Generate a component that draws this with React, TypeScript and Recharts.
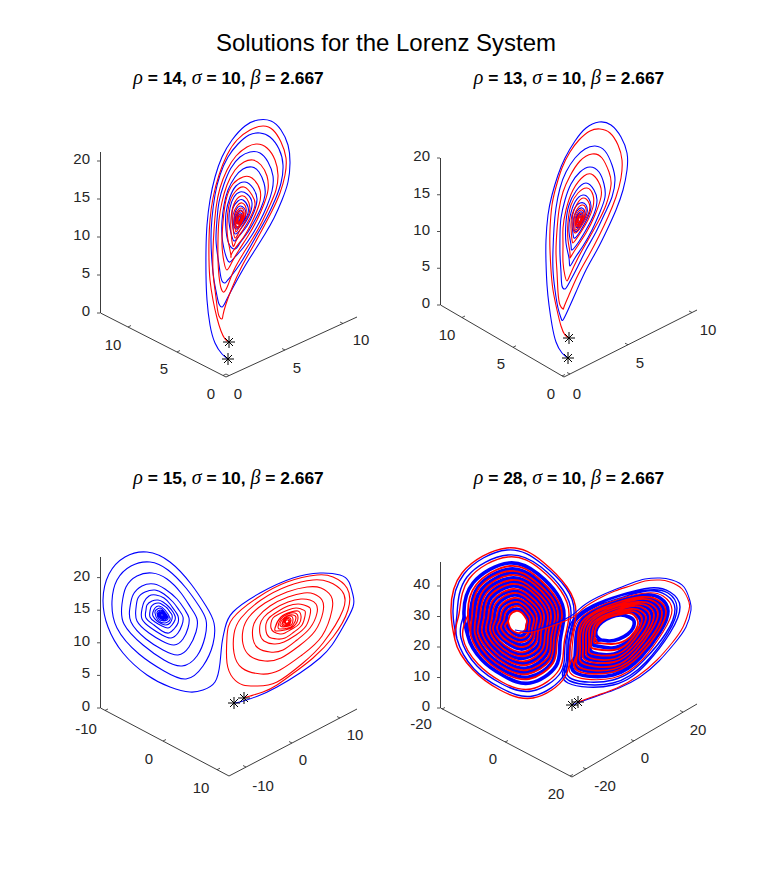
import React from "react";
import { ComposedChart, Line, ReferenceDot, XAxis, YAxis } from "recharts";

// Trajectories as seen in each panel's projection plane: flat lists of (u, v) pairs.
const p1Blue = [228,359,222,354,215,343,210,325,207,300,206,275,206,250,207,225,210,200,215,177,222,157,232,140,245,126,258,120,271,121,281,130,288,145,290,163,288,182,282,200,274,218,265,234,255,250,245,266,236,282,229,295,225,303,222,307,
219,304,217,296,214,280,212,262,211,240,212,218,215,195,220,175,228,157,238,144,249,135,260,133,270,137,279,149,283,165,281,183,275,200,267,217,258,233,249,249,240,264,232,275,227,281,225,283,
222,281,220,272,218,258,216,240,217,220,219,202,224,184,231,168,240,157,250,152,260,153,268,162,273,176,272,191,267,206,260,221,252,235,243,248,235,257,230,262,
227,259,224,249,222,236,222,221,224,205,228,190,235,177,243,169,252,167,259,172,264,183,265,195,261,208,255,220,248,232,240,243,235,249,
229,244,226,230,226,213,230,197,236,186,245,182,253,188,257,199,254,212,247,226,239,236,234,241,
231,233,229,222,230,208,234,197,240,192,247,194,252,203,249,216,243,226,236,234,
233,228,232,218,233,208,238,201,243,200,248,207,247,216,242,224,237,229,
234,226,234,218,236,210,240,206,244,208,246,213,244,220,240,226,
235,225,235,218,238,212,241,210,243,213,243,218,240,223,
236,223,236,218,238,214,241,213,242,216,241,220,238,223,
237,222,237,218,239,215,240.5,215,241,218,240,221,238,222,
238,221,238,218,239.5,216.5,240,218,239.5,220,239,221];
const p1Red = [229,342,225,339,221,331,217,318,213,300,210,280,209,260,209,240,210,220,213,198,219,175,227,155,237,140,250,130,263,126,273,130,281,142,286,158,285,175,280,193,272,211,262,230,251,250,241,268,232,288,226,304,223,315,222,319,
219,316,217,306,215,290,213,272,213,250,214,230,216,208,220,188,227,170,236,156,247,147,257,144,267,148,275,160,278,175,276,190,270,205,262,222,253,238,243,254,234,270,228,285,224,292,
221,288,219,276,218,260,218,240,219,220,222,202,227,185,235,170,244,162,253,160,261,165,267,176,268,190,264,204,257,220,248,236,239,250,232,262,227,270,
224,262,222,245,223,222,226,200,233,184,243,177,252,178,260,190,259,205,252,222,243,238,232,253,231,256,
228,240,227,225,229,205,235,192,244,187,252,195,255,205,250,218,243,230,236,241,233,246,
231,232,231,218,234,204,241,196,247,199,250,208,247,218,240,230,235,238,
233,227,233,215,237,206,242,203,246,208,245,216,240,226,236,232,
235,226,235,216,239,209,243,209,244,215,241,222,237,228,
236,223,237,215,240,211,243,213,242,219,239,224,
237,222,238,217,240,214,242,216,241,220,239,223,
238,221,239,217,240.5,216,241,218,240,221,239,221];
const p2Blue = [568,358,562,353,556,342,552,325,549,305,547,285,546,262,546,240,548,215,552,195,558,175,565,158,575,141,586,128,599,122,611,125,621,137,627,153,627,170,623,190,616,210,607,230,597,250,586,270,576,292,568,310,563,320,
561,318,558,308,555,290,553,270,553,250,554,228,556,208,560,188,566,172,575,158,585,149,595,146,605,151,612,165,615,180,612,197,605,213,596,232,586,250,576,270,568,285,565,289,
562,286,561,272,560,255,560,235,561,218,565,200,571,184,580,172,590,167,599,172,604,184,605,197,600,212,592,230,583,246,575,258,570,266,
569,258,566,243,566,222,569,205,576,191,586,183,594,190,597,200,594,214,586,230,578,243,572,250,
571,245,569,232,570,217,575,202,583,195,589,199,591,207,588,217,581,230,575,238,
573,234,572,222,574,210,580,203,586,205,587,213,583,222,577,231,
574,229,574,219,577,211,582,208,585,213,583,220,578,227,
576,226,576,218,579,213,582,212,583,217,581,222,578,225,
577,224,577,218,580,214.5,582,216,581,220,579,223,
578,222,578.5,218,580,216.5,581,218,580,221,579,222];
const p2Red = [569,338,565,335,561,326,557,310,553,290,551,270,550,250,550,230,552,205,556,187,562,168,570,152,579,140,590,131,600,129,610,133,618,145,622,160,621,178,616,197,608,217,599,236,589,255,578,275,569,295,564,307,563,309,
560,305,558,292,557,272,556,252,557,230,559,210,563,192,570,176,580,161,592,154,602,158,609,172,611,185,606,205,598,222,588,240,578,258,570,275,567,281,
565,276,563,262,563,245,563,228,566,210,573,190,584,176,593,175,600,185,601,197,595,215,586,233,575,250,570,258,
570,253,568,240,568,222,571,205,578,193,587,188,593,195,593,207,588,220,581,232,574,242,
572,240,571,228,572,215,577,204,583,198,589,203,589,212,584,222,578,231,
574,232,573,222,576,211,582,205,586,209,585,216,581,224,576,230,
575,227,575,219,578,212,582,210,584,214,582,221,578,226,
576,225,577,218,580,213.5,582,214,582,218,580,222,578,225,
577,223,578,218,580,215.5,581.5,217,580.5,220,579,222.5,
578,222,579,218.5,580,217,581,218.5,580,221,579,221.5];
const p3Blue = [234,703,240,702,258,696,277,687,300,673,320,658,332,645,343,627,353,607,353,595,349,582,340,575,320,573,293,578,260,593,233,612,225,628,222,643,220,663,215,682,203,690,190,692,170,687,147,675,123,653,108,627,
103,600,109,574,125,557,147,552,170,562,191,584,206,606,214,623,213,644,203,666,186,679,164,671,139,654,117,628,
112,601,117,580,131,566,150,562,168,570,186,588,199,606,206,620,205,637,197,656,182,666,164,660,143,645,124,624,
122,604,126,587,137,576,152,573,167,579,181,593,191,608,197,619,196,632,189,647,178,655,163,650,146,639,131,622,
130,607,133,595,142,586,154,584,165,589,177,599,185,610,189,618,188,628,183,639,174,645,162,641,149,633,137,621,
136,608,138,598,145,592,155,590,164,594,173,602,179,610,183,617,182,625,178,633,171,638,162,635,151,628,142,619,
142,609,144,602,149,596,156,595,164,598,170,604,175,611,178,616,178,623,174,629,169,633,162,631,154,625,146,618,
146,610,147,605,152,601,158,600,163,602,169,607,173,612,175,616,175,620,172,625,168,628,162,626,155,622,150,617,
150,611,151,607,154,604,159,603,163,605,167,608,170,612,172,615,172,619,170,623,166,625,162,624,157,621,153,616,
153,612,155,608,159,606,165,610,170,618,169,621,165,623,158,620,
155,613,156,610,160,608,164,611,168,617,167,620,164,621,159,619,
157,613,158,611,160.5,610,164,612,167,617,166,619,164,620,160,618,
158,614,159,612,161,611,164,613,166,616.5,165.5,618,163.5,619,160,617.5,
159,614,160,612.5,161.5,612,163.5,613.5,165,616,164.5,617.5,163,618,160.5,617,
160,614.5,161,613,162,613,163,614,164,616,163.5,617,162.5,617,161,616,
161,614.5,161.5,614,162.5,614,163,615,163,616,162,616,161.5,615.5];
const p3Red = [244,698,250,696,263,692,277,685,295,672,313,658,333,637,348,610,347,588,333,577,317,575,287,582,257,598,233,618,227,637,227,663,233,678,243,685,257,686,277,682,303,663,323,643,
343,610,342,591,329,582,313,580,288,586,261,600,241,618,234,634,234,653,242,668,261,674,280,670,302,655,322,636,
332,610,331,596,321,588,307,587,287,592,265,603,249,617,243,630,243,644,250,656,265,661,281,658,299,646,315,631,
323,612,322,600,314,594,304,593,288,597,270,606,258,617,253,627,253,639,258,648,270,652,283,650,297,640,310,628,
317,613,316,604,310,600,301,599,288,602,274,609,264,617,260,625,260,634,264,641,274,644,284,642,296,635,306,626,
310,615,310,608,304,605,298,604,288,606,277,612,269,618,266,624,266,631,269,637,277,639,285,638,294,632,302,625,
305,616,305,611,301,609,296,608,288,610,279,614,273,618,271,623,271,628,274,632,280,634,285,633,292,629,299,624,
301,616,298,611,291,612,281,617,275,628,277,631,285,630,
294,626,298,618,295,613,288,614,281,619,278,627,281,629,288,628,
293,625,296,618,293,615,287,616,282,620,280,625,283,627,289,626,
292,624,293,619,291,616,286,617,283,621,282,625,285,626,289,625,
290,624,291,620,289,617.5,286,618,284,621,283,624,285,625,288,624.5,
290,622,289,619,287,618.5,285,620,284.5,622.5,286,624,288,623.5,
289,622,288,620,286.5,620,285.5,621.5,286,623,287.5,623,288.5,622];
const p4BlueStart = [572,705,580,702,600,695,619,688,640,677,659,661,674,644,686,627,691,610,690,601,684,587,672,580,660,578,645,579,632,583,614,590,598,597,583,606,571,616,553,624,531,631,515,630];
const p4RedStart = [578,702,598,695,617,688,638,676,657,660,672,643,683,627,689,610,689,602,682,589,670,582,660,580,645,581,633,585,615,591,600,598,585,607,573,617,555,625,533,632,520,632];
const p4LeftBlueOuter = [457,639,453,613,464,574,507,550,542,564,566,588,574,614,568,646,564,675,533,696,501,688,474,669,457,639,
457,614,467,577,508,555,541,567,563,590,571,615,565,645,561,672,532,691,502,684,477,666,461,638,464,615];
const p4LeftBlue = [468,636,464,615,473,583,509,563,538,574,557,594,564,616,560,642,556,666,530,683,504,676,482,660,468,636,
470,616,478,587,510,569,536,579,553,597,560,616,555,640,552,662,529,677,505,671,486,657,473,635,
474,616,481,590,511,573,534,582,550,599,556,617,552,639,549,658,528,672,506,667,488,654,476,634,
478,617,484,593,511,578,533,586,547,601,553,617,549,637,546,655,527,668,507,663,491,651,480,633,
482,617,488,596,512,582,532,590,544,603,549,618,546,636,543,652,526,663,508,659,494,648,484,632,
486,618,491,598,513,586,530,593,542,605,546,618,543,634,541,648,525,658,509,655,496,645,488,631,
490,618,494,601,513,591,529,597,539,607,542,619,540,633,538,645,524,654,510,651,499,642,492,630,
494,619,498,604,514,595,527,600,536,609,539,619,537,631,535,642,523,649,512,646,502,639,495,628,
498,619,501,607,515,600,526,604,533,612,535,620,534,630,532,639,522,645,513,642,505,637,499,627,
502,620,505,610,515,604,524,608,530,614,532,620,530,628,529,635,522,640,514,638,507,634,503,626,
506,620,508,613,516,609,522,611,527,616,528,621,527,627,526,632,521,636,515,634,510,631,507,625,506,620];
const p4LeftRedOuter = [455,640,451,613,462,573,507,548,543,562,567,587,576,614,570,647,565,677,533,698,500,690,473,670,455,640,
459,614,469,579,508,557,540,569,561,591,569,615,564,644,559,670,531,689,502,682,478,664,463,638,468,615];
const p4LeftRed = [471,636,468,615,476,585,510,566,537,577,555,596,562,616,557,641,553,663,529,679,504,673,484,658,471,636,
472,616,479,588,510,571,535,581,552,598,558,616,554,639,550,660,528,674,506,669,487,655,475,634,
476,616,483,591,511,575,534,584,549,600,555,617,551,638,548,657,527,670,507,665,490,652,478,633,
480,617,486,594,512,580,532,588,546,602,551,617,548,636,545,653,527,665,508,661,492,649,482,632,
484,617,489,597,512,584,531,591,543,604,548,618,545,635,542,650,526,661,509,657,495,646,486,631,
488,618,493,600,513,589,529,595,540,606,544,618,541,633,539,647,525,656,510,653,498,644,490,630,
492,618,496,603,514,593,528,599,537,608,541,619,538,632,536,643,524,652,511,649,500,641,493,629,
496,619,500,606,514,598,526,602,534,610,537,619,535,630,533,640,523,647,512,644,503,638,497,628,
500,620,503,609,515,602,525,606,531,613,534,620,532,629,531,637,522,642,513,640,506,635,501,627,
504,620,506,612,516,606,523,609,528,615,530,620,529,627,528,634,521,638,514,636,509,632,505,626,
508,621,510,615,516,611,522,613,525,617,527,621,526,626,525,630,520,633,515,632,511,629,509,625,508,621];
const p4RightBlueOuter = [566,663,568,683,613,685,647,663,670,633,680,607,670,592,650,588,620,595,593,605,573,620,567,640,566,663,
570,681,613,683,646,662,668,633,677,608,668,593,649,590,620,596,594,606,575,620,569,640,568,662,
572,679,613,680,644,660,666,633,675,609,666,595,647,591,620,598,595,607,576,621,571,639,570,660,576,673];
const p4RightBlue = [575,657,576,673,613,675,641,657,660,632,668,611,660,598,644,595,619,601,597,609,581,621,576,638,575,657,
580,669,613,671,639,654,656,632,664,612,656,601,641,598,619,603,598,611,583,622,579,637,578,654,
583,666,614,667,637,652,653,631,660,614,653,603,639,600,618,605,600,612,586,622,582,636,581,652,
585,663,614,664,635,650,650,631,656,615,650,605,637,603,618,607,601,614,589,623,585,636,584,650,
588,659,614,660,633,648,646,631,652,616,646,607,635,605,618,609,602,615,591,623,588,635,587,648,
591,656,614,657,631,646,643,631,648,617,643,610,633,608,618,611,604,616,594,624,591,634,590,646,
594,653,614,654,629,644,640,630,644,619,640,612,631,610,617,613,605,618,596,624,593,633,593,644,
597,646,612,648,627,642,637,632,641,622,636,614,629,611,617,613,605,617,597,624,593,632,593,640,
601,640,609,641,619,639,628,634,633,628,634,621,629,617,621,615,611,617,602,622,597,628,596,635,601,640];
const p4RightRedOuter = [572,659,574,676,613,678,643,659,663,632,672,610,663,596,646,593,619,599,596,608,578,621,573,639,572,659,578,671];
const p4RightRed = [577,655,578,671,613,672,640,655,658,632,666,612,658,600,642,597,619,602,598,610,582,622,578,637,577,655,
581,668,614,669,638,653,655,632,662,613,655,602,640,599,619,604,599,611,585,622,580,637,580,653,
584,664,614,666,636,651,651,631,658,614,651,604,638,602,618,606,600,613,587,623,583,636,583,651,
587,661,614,662,634,649,648,631,654,615,648,606,636,604,618,608,602,614,590,623,586,635,586,649,
590,658,614,659,632,647,645,631,650,617,645,609,634,606,618,610,603,616,592,624,589,634,589,647,
592,654,614,655,630,645,641,630,646,618,641,611,632,609,617,612,604,617,595,624,592,634,591,645,
595,649,614,650,628,643,638,630,642,619,638,613,630,611,617,614,606,618,597,625,595,633,594,642,
598,643,612,644,626,640,635,631,638,622,634,615,628,613,617,615,607,618,599,624,595,631,595,638,598,643];

const rhoValues = ["14", "13", "15", "28"];
const zTicks = [[0, 5, 10, 15, 20], [0, 5, 10, 15, 20], [0, 5, 10, 15, 20], [0, 10, 20, 30, 40]];
const groundLabels = [["0", "5", "10", "0", "5", "10"], ["0", "5", "10", "0", "5", "10"], ["-10", "0", "10", "-10", "0", "10"], ["-20", "0", "20", "-20", "0", "20"]];
const groundLabelSpots = [
  [211,393,164,368,113,344,238,393,297,367,361,339],
  [551,393,501,363,447,334,577,393,640,362,708,329],
  [86,728,149,758,201,787,263,785,303,759,355,734],
  [421,723,493,758,556,793,605,785,645,757,698,729],
];
const axisPaths = [
  [100.5,152,100.5,313,226,377,357,317],
  [440.5,158,440.5,305,564,377,697,310],
  [100.5,557,100.5,708,229,776,357,709],
  [440.5,562,440.5,708,572,777,697,704],
];
const tickSegments = [
  [128,327,131,325.5,177,352,180,350.5,223,375.5,226,374,229,375.6,226,374,285,350,282,348.5,343,323.5,340,322],
  [462,317.5,465,316,513,347.3,516,345.8,562,376,565,374.5,570,374,567,372.5,628,344.7,625,343.2,692,312.5,689,311],
  [105,710.4,108,709,163,741,166,739.5,217,769.7,220,768.2,246,767,243,765.5,292,743,289,741.5,340,718,337,716.5],
  [442,709,445,707.5,505,742,508,740.5,570,776,573,774.5,586,769,583,767.5,634,741,631,739.5,683,712,680,710.5],
];
const startMarks = [[228,359,229,342], [568,358,569,338], [234,703,244,698], [572,705,578,702]];
const zZero = [313, 305, 708, 708];
const zPixelsPerUnit = [7.6, 7.35, 6.52, 3.05];

const FONT = "'Liberation Sans', Arial, sans-serif";
const INK = "#262626";

const pairs = (flat: number[]) => {
  const out: { u: number; v: number }[] = [];
  for (let i = 0; i + 1 < flat.length; i += 2) out.push({ u: flat[i], v: flat[i + 1] });
  return out;
};

const StarMark = (p: any) => (
  <g key={`s${p.index}`} stroke="#000" strokeWidth={1} fill="none">
    <path d={`M${p.cx - 6} ${p.cy}H${p.cx + 6}M${p.cx} ${p.cy - 6}V${p.cy + 6}M${p.cx - 4} ${p.cy - 4}L${p.cx + 4} ${p.cy + 4}M${p.cx - 4} ${p.cy + 4}L${p.cx + 4} ${p.cy - 4}`} />
  </g>
);

const ZTick = (p: any) => (
  <text x={p.x} y={p.y - 2.5} textAnchor="end" dominantBaseline="central" fontSize={15} fill={INK} fontFamily={FONT}>
    {p.payload.value}
  </text>
);

type Trace = { points: number[]; color: string; width: number };

const Panel = ({ index, left, top, traces }: { index: number; left: number; top: number; traces: Trace[] }) => {
  const width = 340, height = 330, axisWidth = 52;
  const x0 = left + axisWidth;
  const z0 = zZero[index], k = zPixelsPerUnit[index];
  const spots = pairs(groundLabelSpots[index]).map((p, i) => ({ ...p, label: groundLabels[index][i] }));
  const segs = tickSegments[index];
  const segList: number[][] = [];
  for (let i = 0; i < segs.length; i += 4) segList.push(segs.slice(i, i + 4));
  return (
    <div style={{ position: "absolute", left, top, width, height }}>
      <ComposedChart width={width} height={height} margin={{ top: 0, right: 0, bottom: 0, left: 0 }}>
        <XAxis type="number" dataKey="u" domain={[x0, x0 + width - axisWidth]} allowDataOverflow hide />
        <YAxis yAxisId="plane" type="number" dataKey="v" width={0} reversed domain={[top, top + height]} allowDataOverflow hide />
        <YAxis
          yAxisId="z"
          type="number"
          width={axisWidth}
          domain={[(z0 - top - height) / k, (z0 - top) / k]}
          allowDataOverflow
          ticks={zTicks[index]}
          interval={0}
          axisLine={false}
          tickSize={3}
          tickMargin={7}
          tickLine={{ stroke: INK, strokeWidth: 0.8 }}
          tick={ZTick}
        />
        <Line yAxisId="plane" data={pairs(axisPaths[index])} dataKey="v" stroke={INK} strokeWidth={0.9} dot={false} activeDot={false} isAnimationActive={false} />
        {segList.map((s, i) => (
          <Line key={`t${i}`} yAxisId="plane" data={pairs(s)} dataKey="v" stroke={INK} strokeWidth={0.8} dot={false} activeDot={false} isAnimationActive={false} />
        ))}
        {traces.map((t, i) => (
          <Line key={`c${i}`} yAxisId="plane" data={pairs(t.points)} dataKey="v" type="natural" stroke={t.color} strokeWidth={t.width} dot={false} activeDot={false} isAnimationActive={false} />
        ))}
        <Line yAxisId="plane" data={pairs(startMarks[index])} dataKey="v" stroke="none" dot={StarMark} activeDot={false} isAnimationActive={false} />
        {spots.map((s, i) => (
          <ReferenceDot
            key={`l${i}`}
            yAxisId="plane"
            x={s.u}
            y={s.v}
            ifOverflow="visible"
            shape={(p: any) => (
              <text x={p.cx} y={p.cy} textAnchor="middle" dominantBaseline="central" fontSize={15} fill={INK} fontFamily={FONT}>
                {s.label}
              </text>
            )}
          />
        ))}
      </ComposedChart>
    </div>
  );
};

const Greek = ({ c }: { c: string }) => (
  <tspan fontFamily="'Liberation Serif', serif" fontStyle="italic" fontWeight="normal" fontSize={20}>{c}</tspan>
);

const SubTitle = ({ x, y, rho }: { x: number; y: number; rho: string }) => (
  <text x={x} y={y} textAnchor="middle" fontFamily={FONT} fontWeight="bold" fontSize={17.4} fill="#000">
    <Greek c="ρ" /> = {rho}, <Greek c="σ" /> = 10, <Greek c="β" /> = 2.667
  </text>
);

const BLUE = "#0000ff";
const RED = "#ff0000";

export default function App() {
  return (
    <div style={{ position: "absolute", left: 0, top: 0, width: 771, height: 870, background: "#fff", overflow: "hidden" }}>
      <Panel index={0} left={48} top={90} traces={[{ points: p1Blue, color: BLUE, width: 1.1 }, { points: p1Red, color: RED, width: 1.1 }]} />
      <Panel index={1} left={388} top={90} traces={[{ points: p2Blue, color: BLUE, width: 1.1 }, { points: p2Red, color: RED, width: 1.1 }]} />
      <Panel index={2} left={48} top={490} traces={[{ points: p3Blue, color: BLUE, width: 1.1 }, { points: p3Red, color: RED, width: 1.1 }]} />
      <Panel
        index={3}
        left={388}
        top={490}
        traces={[
          { points: p4LeftBlue, color: BLUE, width: 3.6 },
          { points: p4RightBlue, color: BLUE, width: 3.6 },
          { points: p4LeftRed, color: RED, width: 1.8 },
          { points: p4RightRed, color: RED, width: 1.8 },
          { points: p4LeftBlueOuter, color: BLUE, width: 1.4 },
          { points: p4RightBlueOuter, color: BLUE, width: 1.4 },
          { points: p4LeftRedOuter, color: RED, width: 1.4 },
          { points: p4RightRedOuter, color: RED, width: 1.2 },
          { points: p4BlueStart, color: BLUE, width: 1.1 },
          { points: p4RedStart, color: RED, width: 1.1 },
        ]}
      />
      <svg width={771} height={870} style={{ position: "absolute", left: 0, top: 0, pointerEvents: "none" }}>
        <text x={386} y={51} textAnchor="middle" fontFamily={FONT} fontSize={24} fill="#000">Solutions for the Lorenz System</text>
        <SubTitle x={228.5} y={84} rho={rhoValues[0]} />
        <SubTitle x={569} y={84} rho={rhoValues[1]} />
        <SubTitle x={228.5} y={484} rho={rhoValues[2]} />
        <SubTitle x={569} y={484} rho={rhoValues[3]} />
      </svg>
    </div>
  );
}
